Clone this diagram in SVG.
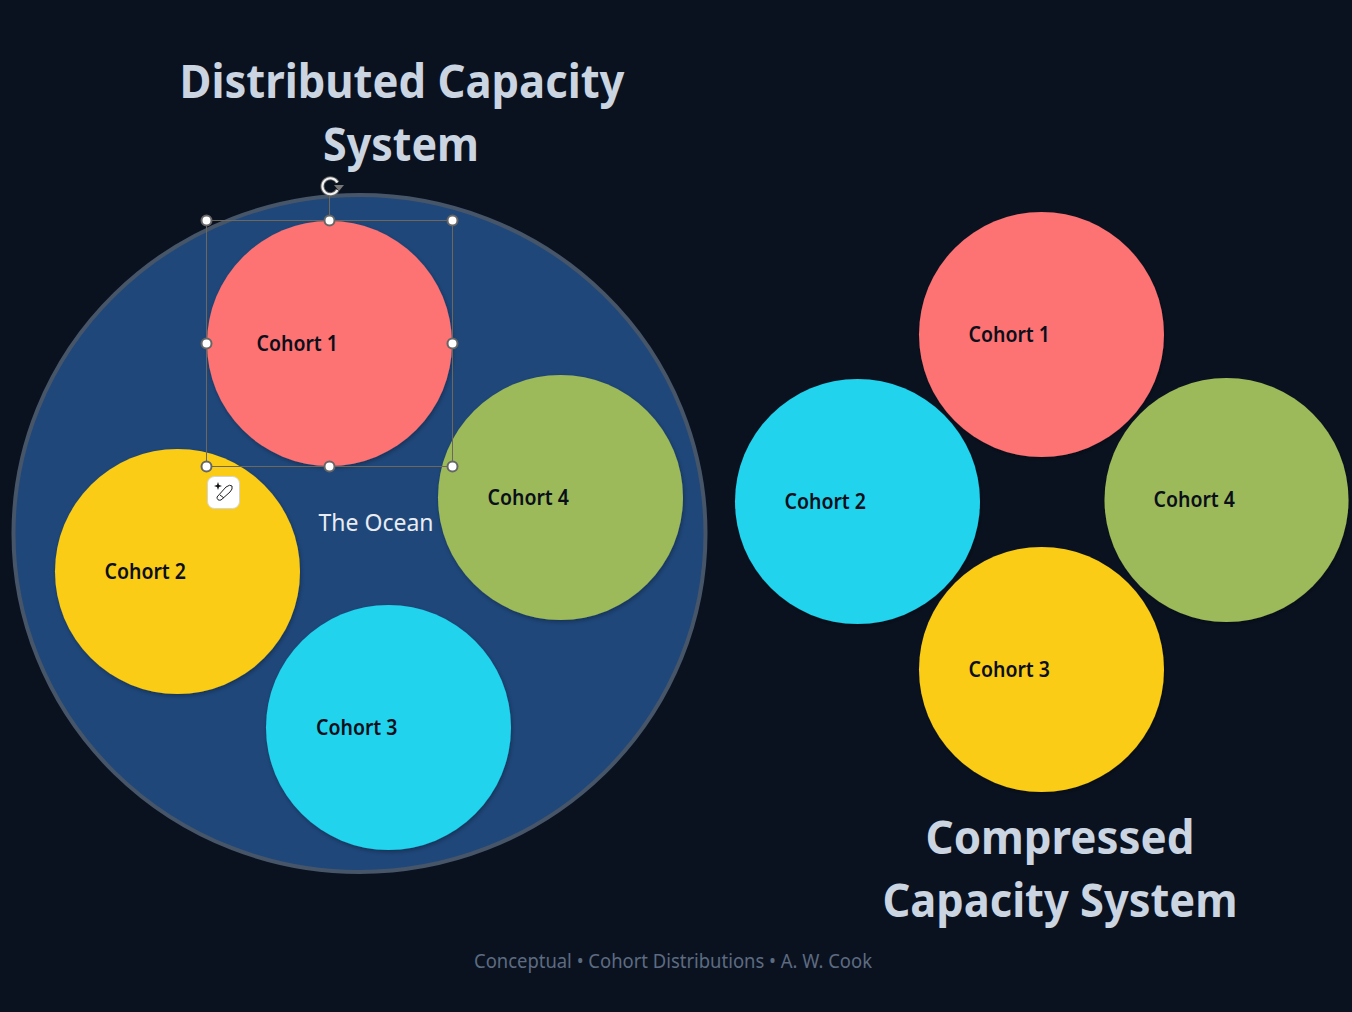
<svg xmlns="http://www.w3.org/2000/svg" width="1352" height="1012" viewBox="0 0 1352 1012">
<style>
.title{font-family:"Noto Sans","Open Sans","Liberation Sans",sans-serif;font-weight:700;font-size:46px;fill:#cbd5e1;text-anchor:middle}
.lab{font-family:"Noto Sans","Open Sans","Liberation Sans",sans-serif;font-weight:600;font-size:21px;fill:#0a0f1a}
.c{filter:url(#sh)}
.red{fill:#fd7272}.yel{fill:#facc15}.cy{fill:#20d3ee}.gr{fill:#9cba5a}
.hd{fill:#fff;stroke:#666;stroke-width:2}
.sel{fill:none;stroke:#6d675c;stroke-width:1}
</style>
<defs>
<filter id="sh" x="-10%" y="-10%" width="120%" height="120%"><feDropShadow dx="1" dy="2" stdDeviation="2" flood-color="#000" flood-opacity=".3"/></filter>
</defs>
<rect width="1352" height="1012" fill="#0a1220"/>
<text class="title" x="402" y="98" textLength="445" lengthAdjust="spacingAndGlyphs">Distributed Capacity</text>
<text class="title" x="401" y="161" textLength="156" lengthAdjust="spacingAndGlyphs">System</text>
<g id="ocean"><ellipse cx="359.500" cy="533.500" rx="346" ry="338.500" fill="#1f477a" stroke="#475569" stroke-width="4"/>
<text x="376" y="531" font-family="Noto Sans,Open Sans,sans-serif" font-size="23" fill="#e8edf3" text-anchor="middle" textLength="115" lengthAdjust="spacingAndGlyphs">The Ocean</text></g>
<g id="d-cohort-1"><circle class="c red" cx="329.500" cy="343.500" r="122.500"/><text class="lab" x="256.500" y="351" textLength="81.500" lengthAdjust="spacingAndGlyphs">Cohort 1</text></g>
<g id="d-cohort-4"><circle class="c gr" cx="560.500" cy="497.500" r="122.500"/><text class="lab" x="487.500" y="505" textLength="81.500" lengthAdjust="spacingAndGlyphs">Cohort 4</text></g>
<g id="d-cohort-2"><circle class="c yel" cx="177.500" cy="571.500" r="122.500"/><text class="lab" x="104.500" y="579" textLength="81.500" lengthAdjust="spacingAndGlyphs">Cohort 2</text></g>
<g id="d-cohort-3"><circle class="c cy" cx="388.500" cy="727.500" r="122.500"/><text class="lab" x="316" y="735" textLength="81.500" lengthAdjust="spacingAndGlyphs">Cohort 3</text></g>
<g id="selection">
<rect class="sel" x="206.500" y="220.500" width="246" height="246"/>
<line class="sel" x1="329.500" y1="195" x2="329.500" y2="220"/>
<circle class="hd" cx="206.500" cy="220.500" r="5"/><circle class="hd" cx="329.500" cy="220.500" r="5"/><circle class="hd" cx="452.500" cy="220.500" r="5"/>
<circle class="hd" cx="206.500" cy="343.500" r="5"/><circle class="hd" cx="452.500" cy="343.500" r="5"/>
<circle class="hd" cx="206.500" cy="466.500" r="5"/><circle class="hd" cx="329.500" cy="466.500" r="5"/><circle class="hd" cx="452.500" cy="466.500" r="5"/>
<path d="M337.500 182.500A8 8 0 1 0 337.500 190" fill="none" stroke="#666" stroke-width="4"/>
<path d="M337.500 182.500A8 8 0 1 0 337.500 190" fill="none" stroke="#f4f4f4" stroke-width="2"/>
<path d="M334 185H344L339 191Z" fill="#777"/>
<rect x="207.500" y="476.500" width="32" height="32" rx="7" fill="#fff" stroke="#d4d4d4"/>
<path d="M217 497L226 487Q230 484 232 486Q233 489 230 492L221 500Q217 501 217 497ZM220 495L224 498" fill="none" stroke="#222" stroke-width="1"/>
<path d="M218 482L219 485L222 486L219 487L218 490L217 487L214 486L217 485Z" fill="#111"/>
</g>
<g id="c-cohort-1"><circle class="c red" cx="1041.500" cy="334.500" r="122.500"/><text class="lab" x="968.500" y="342" textLength="81.500" lengthAdjust="spacingAndGlyphs">Cohort 1</text></g>
<g id="c-cohort-2"><circle class="c cy" cx="857.500" cy="501.500" r="122.500"/><text class="lab" x="784.500" y="509" textLength="81.500" lengthAdjust="spacingAndGlyphs">Cohort 2</text></g>
<g id="c-cohort-4"><circle class="c gr" cx="1226.500" cy="500" r="122"/><text class="lab" x="1153.500" y="507" textLength="81.500" lengthAdjust="spacingAndGlyphs">Cohort 4</text></g>
<g id="c-cohort-3"><circle class="c yel" cx="1041.500" cy="669.500" r="122.500"/><text class="lab" x="968.500" y="677" textLength="81.500" lengthAdjust="spacingAndGlyphs">Cohort 3</text></g>
<text class="title" x="1060" y="854" textLength="269" lengthAdjust="spacingAndGlyphs">Compressed</text>
<text class="title" x="1060" y="917" textLength="355" lengthAdjust="spacingAndGlyphs">Capacity System</text>
<text x="673" y="968" font-family="Noto Sans,Open Sans,sans-serif" font-size="19" fill="#5d6b80" text-anchor="middle" textLength="398" lengthAdjust="spacingAndGlyphs">Conceptual • Cohort Distributions • A. W. Cook</text>
<g id="connectors"/>
</svg>
